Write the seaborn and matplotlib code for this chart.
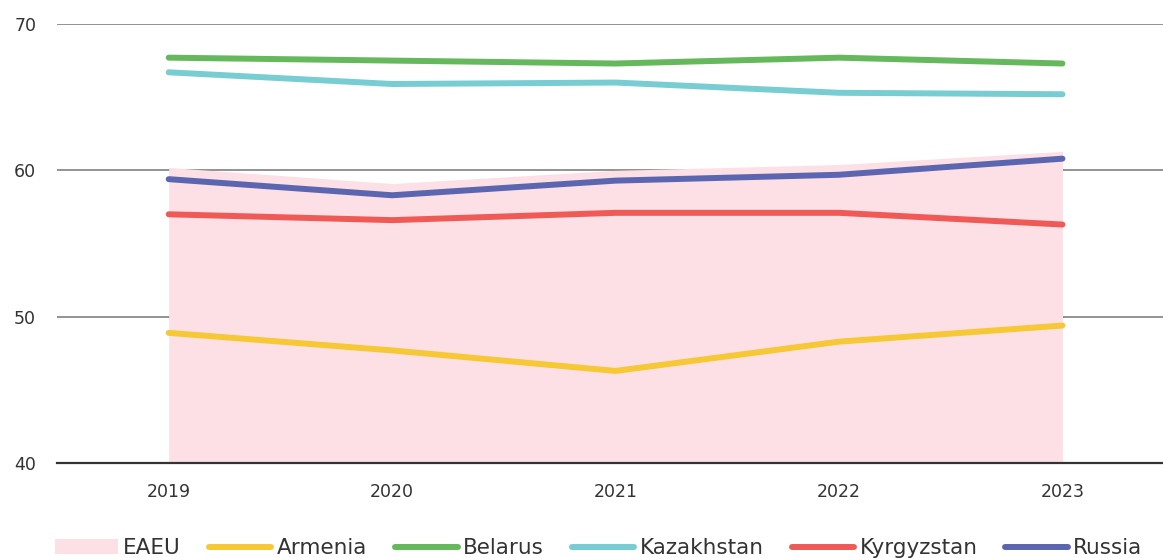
import pandas as pd
import seaborn as sns
import matplotlib.pyplot as plt
from matplotlib.patches import Patch
from matplotlib.lines import Line2D

years = ["2019", "2020", "2021", "2022", "2023"]
eaeu = [60.2, 59.1, 60.0, 60.4, 61.3]
armenia = [48.9, 47.7, 46.3, 48.3, 49.4]
belarus = [67.7, 67.5, 67.3, 67.7, 67.3]
kazakhstan = [66.7, 65.9, 66.0, 65.3, 65.2]
kyrgyzstan = [57.0, 56.6, 57.1, 57.1, 56.3]
russia = [59.4, 58.3, 59.3, 59.7, 60.8]

countries = ["Armenia", "Belarus", "Kazakhstan", "Kyrgyzstan", "Russia"]
colors = ["#f7c836", "#66b85c", "#77cdd2", "#ef5a57", "#5c66b0"]
fill_color = "#fce0e5"
y_ticks = [40, 50, 60, 70]

series = {"Armenia": armenia, "Belarus": belarus, "Kazakhstan": kazakhstan,
          "Kyrgyzstan": kyrgyzstan, "Russia": russia}
df = pd.DataFrame([
    {"Year": i, "Country": c, "Value": v}
    for c in countries for i, v in enumerate(series[c])
])

sns.set_style("white")
plt.rcParams["font.family"] = ["DejaVu Sans"]

fig = plt.figure(figsize=(11.63, 5.58), dpi=100)
ax = fig.add_axes([0.049, 0.170, 0.951, 0.787])

# gridlines under the EAEU area
for yv in y_ticks[1:]:
    ax.axhline(yv, color="#8a8a8a", lw=1.3, zorder=0.5)

# EAEU area
x_idx = list(range(len(years)))
ax.fill_between(x_idx, 40, eaeu, color=fill_color, lw=0, zorder=2)

sns.lineplot(data=df, x="Year", y="Value", hue="Country", hue_order=countries,
             palette=colors, linewidth=4.3, legend=False, ax=ax, zorder=3)
for line in ax.get_lines()[len(y_ticks) - 1:]:
    line.set_solid_capstyle("round")
    line.set_solid_joinstyle("round")

ax.set_ylim(40, 70)
ax.set_xlim(-0.5, 4.45)
ax.set_yticks(y_ticks)
ax.set_xticks(x_idx)
ax.set_xticklabels(years)
ax.set_xlabel("")
ax.set_ylabel("")
ax.grid(False)
for s in ["top", "right", "left"]:
    ax.spines[s].set_visible(False)
ax.spines["bottom"].set_color("#333333")
ax.spines["bottom"].set_linewidth(1.6)
ax.spines["bottom"].set_zorder(4)
ax.tick_params(axis="both", length=0, labelsize=12.5, colors="#333333")
ax.tick_params(axis="x", pad=14)
ax.tick_params(axis="y", pad=15)

handles = [Patch(facecolor=fill_color, edgecolor="none", label="EAEU")]
for c, col in zip(countries, colors):
    handles.append(Line2D([0], [0], color=col, lw=4.3, solid_capstyle="round", label=c))
fig.legend(handles=handles, loc="lower center", ncol=6, frameon=False,
           fontsize=15.5, bbox_to_anchor=(0.515, -0.035), handlelength=2.9,
           handletextpad=0.25, columnspacing=1.3, labelcolor="#333333")

fig.savefig("out.png", dpi=100)
